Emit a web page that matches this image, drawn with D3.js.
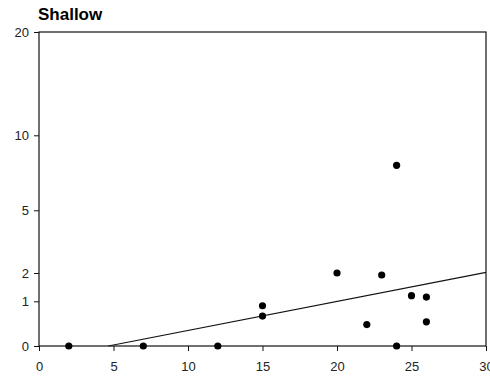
<!DOCTYPE html>
<html>
<head>
<meta charset="utf-8">
<script src="https://cdn.jsdelivr.net/npm/d3@7"></script>
<style>
  body { margin: 0; background: #fff; }
  svg text { font-family: "Liberation Sans", Arial, sans-serif; }
</style>
</head>
<body>
<div id="chart"></div>
<script>
// values
const xs = [2, 7, 12, 24, 24, 20, 23, 15, 15, 25, 26, 22, 26];
const ys = [0, 0, 0, 0, 8, 2, 1.93, 0.9, 0.67, 1.2, 1.15, 0.48, 0.54];
const fitX = [4.65, 30];
const fitY = [0, 2.03];
const xTicks = [0, 5, 10, 15, 20, 25, 30];
const yTicks = [0, 1, 2, 5, 10, 20];
const title = "Shallow";

const width = 490, height = 377;
const margin = {top: 32, right: 4, bottom: 31, left: 39};
const w = width - margin.left - margin.right,
      h = height - margin.top - margin.bottom;

const svg = d3.select("#chart")
  .append("svg")
  .attr("width", width)
  .attr("height", height);

const g = svg.append("g")
  .attr("transform", "translate(" + margin.left + "," + margin.top + ")");

const x = d3.scaleLinear().domain([0, 30]).range([0, w]);
// y axis is stretched near zero: piecewise scale through the tick positions
const y = d3.scaleLinear()
  .domain(yTicks)
  .range([h, h - 44.7, h - 73, h - 135.7, h - 210.7, 0]);

// frame
g.append("rect")
  .attr("width", w)
  .attr("height", h)
  .attr("fill", "none")
  .attr("stroke", "#111")
  .attr("stroke-width", 1.2);

const xAxis = g.append("g")
  .attr("transform", "translate(0," + h + ")")
  .call(d3.axisBottom(x).tickValues(xTicks).tickSize(5).tickPadding(11));
xAxis.select(".domain").remove();

const yAxis = g.append("g")
  .call(d3.axisLeft(y).tickValues(yTicks).tickSize(5).tickPadding(5));
yAxis.select(".domain").remove();

svg.selectAll(".tick line").attr("stroke", "#111");
svg.selectAll(".tick text").attr("fill", "#222").style("font-size", "13px");

// fitted line
const fit = fitX.map((v, i) => ({x: v, y: fitY[i]}));
g.append("path")
  .datum(fit)
  .attr("fill", "none")
  .attr("stroke", "#111")
  .attr("stroke-width", 1.1)
  .attr("d", d3.line().x(d => x(d.x)).y(d => y(d.y)));

const pts = xs.map((v, i) => ({x: v, y: ys[i]}));
g.selectAll("circle")
  .data(pts)
  .enter()
  .append("circle")
  .attr("cx", d => x(d.x))
  .attr("cy", d => y(d.y))
  .attr("r", 3.6)
  .attr("fill", "#000");

svg.append("text")
  .attr("x", 38)
  .attr("y", 20)
  .style("font-size", "17px")
  .style("font-weight", "bold")
  .attr("fill", "#000")
  .text(title);
</script>
</body>
</html>
